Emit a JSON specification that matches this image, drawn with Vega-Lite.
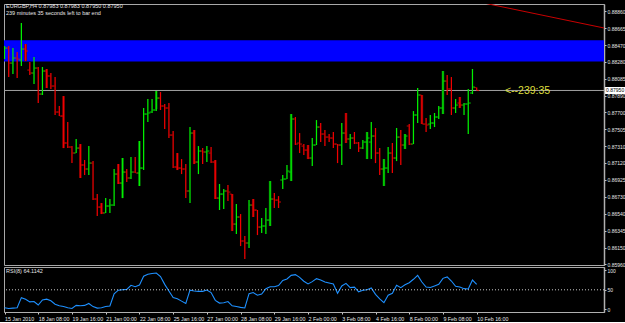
{
"$schema": "https://vega.github.io/schema/vega-lite/v6.json",
"background": "#000000",
"padding": {"left": 3, "top": 3, "right": 0, "bottom": 0},
"spacing": 2,
"bounds": "flush",
"config": {"view": {"stroke": "#A8A8A8", "strokeWidth": 1}, "font": "Liberation Sans", "axis": {"grid": false, "labelOverlap": false, "labelBound": false, "labelFlush": false, "tickCount": 40}},
"datasets": {
"bars": [
{"i":0,"t":"15 Jan 00:00","o":0.88402,"h":0.88459,"l":0.88310,"c":0.88436,"rsi":4},
{"i":1,"t":"15 Jan 04:00","o":0.88436,"h":0.88459,"l":0.88104,"c":0.88264,"rsi":2},
{"i":2,"t":"15 Jan 08:00","o":0.88264,"h":0.88436,"l":0.88138,"c":0.88322,"rsi":3},
{"i":3,"t":"15 Jan 12:00","o":0.88322,"h":0.88391,"l":0.88093,"c":0.88310,"rsi":4},
{"i":4,"t":"15 Jan 16:00","o":0.88299,"h":0.88723,"l":0.88230,"c":0.88425,"rsi":30},
{"i":5,"t":"15 Jan 20:00","o":0.88425,"h":0.88482,"l":0.88287,"c":0.88402,"rsi":26},
{"i":6,"t":"18 Jan 00:00","o":0.88184,"h":0.88276,"l":0.88127,"c":0.88150,"rsi":19},
{"i":7,"t":"18 Jan 04:00","o":0.88150,"h":0.88333,"l":0.88024,"c":0.88207,"rsi":20},
{"i":8,"t":"18 Jan 08:00","o":0.88207,"h":0.88219,"l":0.87806,"c":0.87909,"rsi":11},
{"i":9,"t":"18 Jan 12:00","o":0.87909,"h":0.88219,"l":0.87898,"c":0.88173,"rsi":24},
{"i":10,"t":"18 Jan 16:00","o":0.88173,"h":0.88196,"l":0.87978,"c":0.88116,"rsi":26},
{"i":11,"t":"18 Jan 20:00","o":0.88116,"h":0.88150,"l":0.87967,"c":0.88001,"rsi":22},
{"i":12,"t":"19 Jan 00:00","o":0.88001,"h":0.88104,"l":0.87669,"c":0.87703,"rsi":13},
{"i":13,"t":"19 Jan 04:00","o":0.87703,"h":0.87772,"l":0.87657,"c":0.87657,"rsi":9},
{"i":14,"t":"19 Jan 08:00","o":0.87657,"h":0.87886,"l":0.87290,"c":0.87348,"rsi":7},
{"i":15,"t":"19 Jan 12:00","o":0.87348,"h":0.87588,"l":0.87290,"c":0.87302,"rsi":4},
{"i":16,"t":"19 Jan 16:00","o":0.87302,"h":0.87313,"l":0.87118,"c":0.87233,"rsi":2},
{"i":17,"t":"19 Jan 20:00","o":0.87233,"h":0.87394,"l":0.87233,"c":0.87290,"rsi":10},
{"i":18,"t":"20 Jan 00:00","o":0.87290,"h":0.87336,"l":0.86947,"c":0.87096,"rsi":9},
{"i":19,"t":"20 Jan 04:00","o":0.87096,"h":0.87153,"l":0.86981,"c":0.87050,"rsi":10},
{"i":20,"t":"20 Jan 08:00","o":0.87050,"h":0.87313,"l":0.86981,"c":0.87118,"rsi":15},
{"i":21,"t":"20 Jan 12:00","o":0.87118,"h":0.87141,"l":0.86694,"c":0.86706,"rsi":7},
{"i":22,"t":"20 Jan 16:00","o":0.86706,"h":0.86763,"l":0.86511,"c":0.86614,"rsi":3},
{"i":23,"t":"20 Jan 20:00","o":0.86614,"h":0.86660,"l":0.86534,"c":0.86546,"rsi":4},
{"i":24,"t":"21 Jan 00:00","o":0.86546,"h":0.86717,"l":0.86546,"c":0.86626,"rsi":7},
{"i":25,"t":"21 Jan 04:00","o":0.86626,"h":0.86706,"l":0.86546,"c":0.86637,"rsi":8.5},
{"i":26,"t":"21 Jan 08:00","o":0.86637,"h":0.87050,"l":0.86626,"c":0.86992,"rsi":40},
{"i":27,"t":"21 Jan 12:00","o":0.86992,"h":0.87107,"l":0.86878,"c":0.86889,"rsi":49},
{"i":28,"t":"21 Jan 16:00","o":0.86889,"h":0.87176,"l":0.86717,"c":0.87015,"rsi":50},
{"i":29,"t":"21 Jan 20:00","o":0.87015,"h":0.87050,"l":0.86901,"c":0.86947,"rsi":51},
{"i":30,"t":"22 Jan 00:00","o":0.86947,"h":0.87187,"l":0.86935,"c":0.87015,"rsi":61.5},
{"i":31,"t":"22 Jan 04:00","o":0.87015,"h":0.87187,"l":0.87004,"c":0.87004,"rsi":58},
{"i":32,"t":"22 Jan 08:00","o":0.87004,"h":0.87371,"l":0.86855,"c":0.87061,"rsi":62},
{"i":33,"t":"22 Jan 12:00","o":0.87061,"h":0.87749,"l":0.87038,"c":0.87680,"rsi":85},
{"i":34,"t":"22 Jan 16:00","o":0.87680,"h":0.87852,"l":0.87588,"c":0.87692,"rsi":90},
{"i":35,"t":"22 Jan 20:00","o":0.87703,"h":0.87852,"l":0.87692,"c":0.87726,"rsi":92},
{"i":36,"t":"25 Jan 00:00","o":0.87726,"h":0.87944,"l":0.87714,"c":0.87863,"rsi":93},
{"i":37,"t":"25 Jan 04:00","o":0.87863,"h":0.87932,"l":0.87726,"c":0.87772,"rsi":84},
{"i":38,"t":"25 Jan 08:00","o":0.87772,"h":0.87795,"l":0.87508,"c":0.87749,"rsi":64},
{"i":39,"t":"25 Jan 12:00","o":0.87749,"h":0.87806,"l":0.87405,"c":0.87439,"rsi":47},
{"i":40,"t":"25 Jan 16:00","o":0.87439,"h":0.87485,"l":0.87061,"c":0.87073,"rsi":30},
{"i":41,"t":"25 Jan 20:00","o":0.87073,"h":0.87233,"l":0.87038,"c":0.87061,"rsi":27},
{"i":42,"t":"26 Jan 00:00","o":0.87061,"h":0.87164,"l":0.86992,"c":0.87050,"rsi":21},
{"i":43,"t":"26 Jan 04:00","o":0.87050,"h":0.87107,"l":0.86717,"c":0.86798,"rsi":15},
{"i":44,"t":"26 Jan 08:00","o":0.86798,"h":0.87531,"l":0.86660,"c":0.87462,"rsi":49},
{"i":45,"t":"26 Jan 12:00","o":0.87462,"h":0.87497,"l":0.87107,"c":0.87130,"rsi":47},
{"i":46,"t":"26 Jan 16:00","o":0.87130,"h":0.87313,"l":0.86992,"c":0.87256,"rsi":46},
{"i":47,"t":"26 Jan 20:00","o":0.87256,"h":0.87290,"l":0.87107,"c":0.87245,"rsi":46},
{"i":48,"t":"27 Jan 00:00","o":0.87245,"h":0.87313,"l":0.87130,"c":0.87256,"rsi":49.5},
{"i":49,"t":"27 Jan 04:00","o":0.87233,"h":0.87302,"l":0.87118,"c":0.87130,"rsi":43},
{"i":50,"t":"27 Jan 08:00","o":0.87130,"h":0.87153,"l":0.86706,"c":0.86717,"rsi":23},
{"i":51,"t":"27 Jan 12:00","o":0.86717,"h":0.86878,"l":0.86580,"c":0.86763,"rsi":16},
{"i":52,"t":"27 Jan 16:00","o":0.86763,"h":0.86820,"l":0.86591,"c":0.86798,"rsi":17},
{"i":53,"t":"27 Jan 20:00","o":0.86798,"h":0.86866,"l":0.86683,"c":0.86786,"rsi":20},
{"i":54,"t":"28 Jan 00:00","o":0.86763,"h":0.86763,"l":0.86339,"c":0.86419,"rsi":9},
{"i":55,"t":"28 Jan 04:00","o":0.86419,"h":0.86649,"l":0.86305,"c":0.86500,"rsi":7},
{"i":56,"t":"28 Jan 08:00","o":0.86500,"h":0.86534,"l":0.86167,"c":0.86225,"rsi":5},
{"i":57,"t":"28 Jan 12:00","o":0.86225,"h":0.86282,"l":0.86018,"c":0.86202,"rsi":3.4},
{"i":58,"t":"28 Jan 16:00","o":0.86202,"h":0.86694,"l":0.86144,"c":0.86637,"rsi":40},
{"i":59,"t":"28 Jan 20:00","o":0.86637,"h":0.86706,"l":0.86500,"c":0.86580,"rsi":43},
{"i":60,"t":"29 Jan 00:00","o":0.86580,"h":0.86580,"l":0.86293,"c":0.86385,"rsi":36},
{"i":61,"t":"29 Jan 04:00","o":0.86385,"h":0.86488,"l":0.86316,"c":0.86397,"rsi":39},
{"i":62,"t":"29 Jan 08:00","o":0.86397,"h":0.86603,"l":0.86305,"c":0.86465,"rsi":53},
{"i":63,"t":"29 Jan 12:00","o":0.86465,"h":0.86912,"l":0.86397,"c":0.86706,"rsi":58},
{"i":64,"t":"29 Jan 16:00","o":0.86706,"h":0.86775,"l":0.86603,"c":0.86694,"rsi":58},
{"i":65,"t":"29 Jan 20:00","o":0.86694,"h":0.86740,"l":0.86603,"c":0.86672,"rsi":61},
{"i":66,"t":"1 Feb 00:00","o":0.86924,"h":0.86981,"l":0.86820,"c":0.86935,"rsi":74},
{"i":67,"t":"1 Feb 04:00","o":0.86935,"h":0.87096,"l":0.86935,"c":0.87027,"rsi":78},
{"i":68,"t":"1 Feb 08:00","o":0.87015,"h":0.87680,"l":0.86912,"c":0.87623,"rsi":87},
{"i":69,"t":"1 Feb 12:00","o":0.87623,"h":0.87646,"l":0.87325,"c":0.87336,"rsi":89},
{"i":70,"t":"1 Feb 16:00","o":0.87348,"h":0.87462,"l":0.87233,"c":0.87336,"rsi":82},
{"i":71,"t":"1 Feb 20:00","o":0.87313,"h":0.87336,"l":0.87210,"c":0.87267,"rsi":72},
{"i":72,"t":"2 Feb 00:00","o":0.87267,"h":0.87325,"l":0.87164,"c":0.87176,"rsi":65},
{"i":73,"t":"2 Feb 04:00","o":0.87176,"h":0.87405,"l":0.87084,"c":0.87325,"rsi":71},
{"i":74,"t":"2 Feb 08:00","o":0.87325,"h":0.87611,"l":0.87325,"c":0.87531,"rsi":78.6},
{"i":75,"t":"2 Feb 12:00","o":0.87531,"h":0.87577,"l":0.87359,"c":0.87451,"rsi":75},
{"i":76,"t":"2 Feb 16:00","o":0.87451,"h":0.87497,"l":0.87313,"c":0.87416,"rsi":70},
{"i":77,"t":"2 Feb 20:00","o":0.87416,"h":0.87451,"l":0.87359,"c":0.87405,"rsi":67.5},
{"i":78,"t":"3 Feb 00:00","o":0.87405,"h":0.87474,"l":0.87290,"c":0.87336,"rsi":65},
{"i":79,"t":"3 Feb 04:00","o":0.87336,"h":0.87336,"l":0.87118,"c":0.87325,"rsi":41},
{"i":80,"t":"3 Feb 08:00","o":0.87325,"h":0.87577,"l":0.87096,"c":0.87462,"rsi":60},
{"i":81,"t":"3 Feb 12:00","o":0.87462,"h":0.87692,"l":0.87348,"c":0.87394,"rsi":66.6},
{"i":82,"t":"3 Feb 16:00","o":0.87394,"h":0.87451,"l":0.87279,"c":0.87405,"rsi":55.5},
{"i":83,"t":"3 Feb 20:00","o":0.87405,"h":0.87474,"l":0.87336,"c":0.87348,"rsi":57},
{"i":84,"t":"4 Feb 00:00","o":0.87348,"h":0.87359,"l":0.87245,"c":0.87290,"rsi":45},
{"i":85,"t":"4 Feb 04:00","o":0.87290,"h":0.87382,"l":0.87279,"c":0.87359,"rsi":48.7},
{"i":86,"t":"4 Feb 08:00","o":0.87359,"h":0.87474,"l":0.87164,"c":0.87405,"rsi":50},
{"i":87,"t":"4 Feb 12:00","o":0.87359,"h":0.87588,"l":0.87164,"c":0.87428,"rsi":54.6},
{"i":88,"t":"4 Feb 16:00","o":0.87428,"h":0.87520,"l":0.87118,"c":0.87233,"rsi":38.4},
{"i":89,"t":"4 Feb 20:00","o":0.87233,"h":0.87290,"l":0.86981,"c":0.87050,"rsi":27},
{"i":90,"t":"5 Feb 00:00","o":0.87050,"h":0.87164,"l":0.86855,"c":0.87061,"rsi":17},
{"i":91,"t":"5 Feb 04:00","o":0.87061,"h":0.87302,"l":0.87004,"c":0.87233,"rsi":36},
{"i":92,"t":"5 Feb 08:00","o":0.87233,"h":0.87348,"l":0.87004,"c":0.87176,"rsi":41},
{"i":93,"t":"5 Feb 12:00","o":0.87176,"h":0.87520,"l":0.87141,"c":0.87416,"rsi":61.5},
{"i":94,"t":"5 Feb 16:00","o":0.87416,"h":0.87497,"l":0.87096,"c":0.87325,"rsi":55.5},
{"i":95,"t":"5 Feb 20:00","o":0.87325,"h":0.87451,"l":0.87279,"c":0.87428,"rsi":63},
{"i":96,"t":"8 Feb 00:00","o":0.87543,"h":0.87565,"l":0.87325,"c":0.87336,"rsi":68},
{"i":97,"t":"8 Feb 04:00","o":0.87336,"h":0.87714,"l":0.87336,"c":0.87669,"rsi":77},
{"i":98,"t":"8 Feb 08:00","o":0.87669,"h":0.87978,"l":0.87577,"c":0.87898,"rsi":87},
{"i":99,"t":"8 Feb 12:00","o":0.87898,"h":0.87898,"l":0.87565,"c":0.87565,"rsi":70},
{"i":100,"t":"8 Feb 16:00","o":0.87565,"h":0.87634,"l":0.87474,"c":0.87554,"rsi":57},
{"i":101,"t":"8 Feb 20:00","o":0.87565,"h":0.87669,"l":0.87508,"c":0.87577,"rsi":56},
{"i":102,"t":"9 Feb 00:00","o":0.87577,"h":0.87692,"l":0.87531,"c":0.87646,"rsi":60},
{"i":103,"t":"9 Feb 04:00","o":0.87646,"h":0.87772,"l":0.87623,"c":0.87749,"rsi":64},
{"i":104,"t":"9 Feb 08:00","o":0.87749,"h":0.88173,"l":0.87680,"c":0.88058,"rsi":79.4},
{"i":105,"t":"9 Feb 12:00","o":0.88058,"h":0.88127,"l":0.87898,"c":0.87967,"rsi":83},
{"i":106,"t":"9 Feb 16:00","o":0.87967,"h":0.88104,"l":0.87669,"c":0.87749,"rsi":72.6},
{"i":107,"t":"9 Feb 20:00","o":0.87749,"h":0.87852,"l":0.87692,"c":0.87783,"rsi":59},
{"i":108,"t":"10 Feb 00:00","o":0.87806,"h":0.87875,"l":0.87749,"c":0.87783,"rsi":57},
{"i":109,"t":"10 Feb 04:00","o":0.87783,"h":0.87806,"l":0.87669,"c":0.87795,"rsi":53},
{"i":110,"t":"10 Feb 08:00","o":0.87795,"h":0.87967,"l":0.87451,"c":0.87806,"rsi":52},
{"i":111,"t":"10 Feb 12:00","o":0.87921,"h":0.88196,"l":0.87909,"c":0.87989,"rsi":75},
{"i":112,"t":"10 Feb 16:00","o":0.87983,"h":0.87983,"l":0.87950,"c":0.87950,"rsi":64.1142}
],
"ind": [
{"i":5,"top":0.88482,"bottom":0.88287,"dir":"down"},
{"i":10,"top":0.88196,"bottom":0.87978,"dir":"down"},
{"i":14,"top":0.87886,"bottom":0.87290,"dir":"down"},
{"i":18,"top":0.87336,"bottom":0.86947,"dir":"down"},
{"i":23,"top":0.86660,"bottom":0.86534,"dir":"down"},
{"i":27,"top":0.87107,"bottom":0.86878,"dir":"down"},
{"i":28,"top":0.87176,"bottom":0.86717,"dir":"up"},
{"i":32,"top":0.87371,"bottom":0.86855,"dir":"up"},
{"i":36,"top":0.87944,"bottom":0.87737,"dir":"up"},
{"i":41,"top":0.87233,"bottom":0.87038,"dir":"down"},
{"i":45,"top":0.87497,"bottom":0.87107,"dir":"down"},
{"i":50,"top":0.87153,"bottom":0.86706,"dir":"down"},
{"i":54,"top":0.86763,"bottom":0.86339,"dir":"down"},
{"i":59,"top":0.86706,"bottom":0.86500,"dir":"down"},
{"i":63,"top":0.86912,"bottom":0.86397,"dir":"up"},
{"i":68,"top":0.87680,"bottom":0.86912,"dir":"up"},
{"i":72,"top":0.87325,"bottom":0.87164,"dir":"down"},
{"i":81,"top":0.87692,"bottom":0.87348,"dir":"down"},
{"i":86,"top":0.87474,"bottom":0.87164,"dir":"up"},
{"i":90,"top":0.87164,"bottom":0.86855,"dir":"up"},
{"i":95,"top":0.87451,"bottom":0.87279,"dir":"up"},
{"i":99,"top":0.87898,"bottom":0.87565,"dir":"down"},
{"i":104,"top":0.88173,"bottom":0.87680,"dir":"up"},
{"i":108,"top":0.87875,"bottom":0.87749,"dir":"down"}
],
"levels": [{"zone_hi": 0.88525, "zone_lo": 0.88282, "price": 0.8795, "timer": "<--239:35"}],
"trend": [{"i": 113.7, "p": 0.88952}, {"i": 142.2, "p": 0.88666}]
},
"vconcat": [
{
"width": 600,
"height": 261,
"title": {"text": "EURGBP,H4  0.87983 0.87983 0.87950 0.87950", "subtitle": "239 minutes 35 seconds left to bar end", "anchor": "start", "frame": "group", "offset": -12, "dx": 2, "font": "Liberation Sans", "fontSize": 5.5, "fontWeight": "normal", "color": "#E6E6E6", "subtitleFont": "Liberation Sans", "subtitleFontSize": 5.5, "subtitleColor": "#E6E6E6", "subtitlePadding": 1.5},
"layer": [
{"data": {"name": "levels"}, "mark": {"type": "rect", "color": "#0000FF"},
 "encoding": {"y": {"field": "zone_hi", "type": "quantitative", "scale": {"domain": [0.8595, 0.88941], "nice": false, "zero": false},
   "axis": {"orient": "right", "title": null, "tickCount": 40, "values": [0.8886, 0.88665, 0.8847, 0.8828, 0.88085, 0.8789, 0.877, 0.87505, 0.8731, 0.8712, 0.86925, 0.8673, 0.8654, 0.86345, 0.8615, 0.8596], "format": ".5f", "labelFont": "Liberation Sans", "labelFontSize": 5, "labelColor": "#E6E6E6", "tickColor": "#C8C8C8", "tickSize": 2, "domainColor": "#B0B0B0", "domainWidth": 1.5, "labelPadding": 1, "labelOverlap": false, "labelBound": false, "grid": false}},
  "y2": {"field": "zone_lo"}}},
{"data": {"name": "levels"}, "mark": {"type": "rule", "color": "#A0A0A0", "strokeWidth": 1},
 "encoding": {"y": {"field": "price", "type": "quantitative", "scale": {"domain": [0.8595, 0.88941], "nice": false, "zero": false}}}},
{"data": {"name": "trend"}, "mark": {"type": "line", "color": "#C80000", "strokeWidth": 1, "clip": true},
 "encoding": {"x": {"field": "i", "type": "quantitative", "scale": {"domain": [-0.12, 142.2], "nice": false, "zero": false}, "axis": null},
  "y": {"field": "p", "type": "quantitative", "scale": {"domain": [0.8595, 0.88941], "nice": false, "zero": false}}}},
{"data": {"name": "ind"}, "mark": {"type": "rule", "strokeWidth": 2.6, "clip": true},
 "encoding": {"x": {"field": "i", "type": "quantitative", "scale": {"domain": [-0.12, 142.2], "nice": false, "zero": false}, "axis": null},
  "y": {"field": "bottom", "type": "quantitative", "scale": {"domain": [0.8595, 0.88941], "nice": false, "zero": false}},
  "y2": {"field": "top"},
  "color": {"field": "dir", "type": "nominal", "scale": {"domain": ["up", "down"], "range": ["#006A00", "#800000"]}, "legend": null}}},
{"data": {"name": "bars"}, "mark": {"type": "rule", "strokeWidth": 1.25, "clip": true},
 "encoding": {"x": {"field": "i", "type": "quantitative", "scale": {"domain": [-0.12, 142.2], "nice": false, "zero": false}, "axis": null},
  "y": {"field": "l", "type": "quantitative", "scale": {"domain": [0.8595, 0.88941], "nice": false, "zero": false}},
  "y2": {"field": "h"},
  "color": {"condition": {"test": "datum.c >= datum.o", "value": "#00F000"}, "value": "#F00000"}}},
{"data": {"name": "bars"}, "mark": {"type": "tick", "orient": "horizontal", "size": 2, "thickness": 1.2, "xOffset": -1.5, "clip": true},
 "encoding": {"x": {"field": "i", "type": "quantitative", "scale": {"domain": [-0.12, 142.2], "nice": false, "zero": false}, "axis": null},
  "y": {"field": "o", "type": "quantitative", "scale": {"domain": [0.8595, 0.88941], "nice": false, "zero": false}},
  "color": {"condition": {"test": "datum.c >= datum.o", "value": "#00F000"}, "value": "#F00000"}}},
{"data": {"name": "bars"}, "mark": {"type": "tick", "orient": "horizontal", "size": 2, "thickness": 1.2, "xOffset": 1.5, "clip": true},
 "encoding": {"x": {"field": "i", "type": "quantitative", "scale": {"domain": [-0.12, 142.2], "nice": false, "zero": false}, "axis": null},
  "y": {"field": "c", "type": "quantitative", "scale": {"domain": [0.8595, 0.88941], "nice": false, "zero": false}},
  "color": {"condition": {"test": "datum.c >= datum.o", "value": "#00F000"}, "value": "#F00000"}}},
{"data": {"name": "levels"}, "mark": {"type": "text", "color": "#DCDC3C", "font": "Liberation Sans", "fontSize": 10.5, "align": "left", "baseline": "middle", "dy": 1},
 "encoding": {"x": {"datum": 118.7, "type": "quantitative", "scale": {"domain": [-0.12, 142.2], "nice": false, "zero": false}, "axis": null},
  "y": {"field": "price", "type": "quantitative", "scale": {"domain": [0.8595, 0.88941], "nice": false, "zero": false}},
  "text": {"field": "timer"}}},
{"data": {"name": "levels"}, "mark": {"type": "rule", "color": "#FFFFFF", "strokeWidth": 7, "clip": false},
 "encoding": {"x": {"datum": 142.45, "type": "quantitative", "scale": {"domain": [-0.12, 142.2], "nice": false, "zero": false}, "axis": null},
  "x2": {"datum": 148.5},
  "y": {"field": "price", "type": "quantitative", "scale": {"domain": [0.8595, 0.88941], "nice": false, "zero": false}}}},
{"data": {"name": "levels"}, "mark": {"type": "text", "color": "#000000", "font": "Liberation Sans", "fontSize": 5, "align": "left", "baseline": "middle", "clip": false},
 "encoding": {"x": {"datum": 142.7, "type": "quantitative", "scale": {"domain": [-0.12, 142.2], "nice": false, "zero": false}, "axis": null},
  "y": {"field": "price", "type": "quantitative", "scale": {"domain": [0.8595, 0.88941], "nice": false, "zero": false}},
  "text": {"field": "price", "format": ".5f"}}}
]
},
{
"width": 600,
"height": 45,
"title": {"text": "RSI(8) 64.1142", "anchor": "start", "frame": "group", "offset": -7, "dx": 2, "font": "Liberation Sans", "fontSize": 5.5, "fontWeight": "normal", "color": "#E6E6E6"},
"layer": [
{"data": {"name": "bars"}, "mark": {"type": "line", "color": "#1E90FF", "strokeWidth": 1.1, "clip": true},
 "encoding": {"x": {"field": "i", "type": "quantitative", "scale": {"domain": [-0.12, 142.2], "nice": false, "zero": false},
   "axis": {"orient": "bottom", "title": null, "tickCount": 40, "values": [0, 8, 16, 24, 32, 40, 48, 56, 64, 72, 80, 88, 96, 104, 112], "labelExpr": "['15 Jan 2010','18 Jan 08:00','19 Jan 16:00','21 Jan 00:00','22 Jan 08:00','25 Jan 16:00','27 Jan 00:00','28 Jan 08:00','29 Jan 16:00','2 Feb 00:00','3 Feb 08:00','4 Feb 16:00','8 Feb 00:00','9 Feb 08:00','10 Feb 16:00'][round(datum.value / 8)]", "labelAlign": "left", "labelFont": "Liberation Sans", "labelFontSize": 5.3, "labelColor": "#E6E6E6", "tickColor": "#C8C8C8", "tickSize": 2, "domainColor": "#B0B0B0", "labelPadding": 2, "labelOverlap": false, "labelBound": false, "grid": false}},
  "y": {"field": "rsi", "type": "quantitative", "scale": {"domain": [-6.9, 108.5], "nice": false, "zero": false},
   "axis": {"orient": "right", "title": null, "tickCount": 10, "values": [0, 50, 100], "labelFont": "Liberation Sans", "labelFontSize": 5, "labelColor": "#E6E6E6", "tickColor": "#C8C8C8", "tickSize": 2, "domainColor": "#B0B0B0", "domainWidth": 1.5, "labelPadding": 1, "labelOverlap": false, "labelBound": false, "grid": false}}}},
{"data": {"name": "levels"}, "mark": {"type": "rule", "color": "#C8C8C8", "strokeWidth": 1, "strokeDash": [1, 2]},
 "encoding": {"y": {"datum": 50, "type": "quantitative", "scale": {"domain": [-6.9, 108.5], "nice": false, "zero": false}}}}
]
}
]
}
